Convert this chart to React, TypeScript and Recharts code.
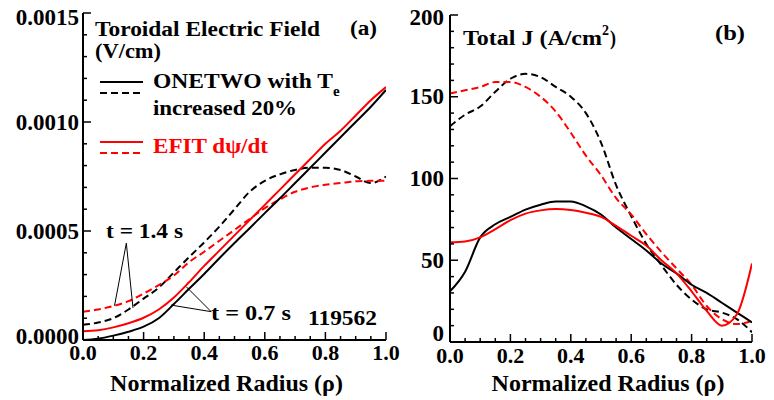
import React from 'react';
import { LineChart, Line, XAxis, YAxis, ReferenceLine } from 'recharts';

const FONT = '"Liberation Serif", "Times New Roman", Times, serif';
const RED = '#ff0000';
const BLACK = '#000000';

// ---- tick values ----
const rhoTicksMajor = [0, 0.2, 0.4, 0.6, 0.8, 1.0];
const rhoTicksAll = [0, 0.05, 0.1, 0.15, 0.2, 0.25, 0.3, 0.35, 0.4, 0.45, 0.5, 0.55, 0.6, 0.65, 0.7, 0.75, 0.8, 0.85, 0.9, 0.95, 1.0];
const eTicksMajor = [0, 0.0005, 0.001, 0.0015];
const eTicksAll = [0, 0.0001, 0.0002, 0.0003, 0.0004, 0.0005, 0.0006, 0.0007, 0.0008, 0.0009, 0.001, 0.0011, 0.0012, 0.0013, 0.0014, 0.0015];
const jTicksMajor = [0, 50, 100, 150, 200];
const jTicksAll = [0, 10, 20, 30, 40, 50, 60, 70, 80, 90, 100, 110, 120, 130, 140, 150, 160, 170, 180, 190, 200];

// ---- sample positions (normalized radius) ----
const rho = [0, 0.05, 0.1, 0.15, 0.2, 0.25, 0.3, 0.35, 0.4, 0.45, 0.5, 0.55, 0.6, 0.65, 0.7, 0.75, 0.8, 0.85, 0.9, 0.95, 1.0];

// ---- panel (a): toroidal electric field (V/cm) ----
const eOnetwo07 = [0, 0.000006, 0.00002, 0.000038, 0.000061, 0.0001, 0.000165, 0.000235, 0.000303, 0.000375, 0.000445, 0.000513, 0.000582, 0.00065, 0.00072, 0.00079, 0.00086, 0.00093, 0.001, 0.00107, 0.001147];
const eOnetwo14 = [0.00007, 0.00008, 0.0001, 0.00014, 0.00019, 0.00024, 0.00031, 0.00038, 0.000448, 0.00052, 0.0006, 0.00068, 0.00073, 0.00076, 0.00078, 0.00079, 0.00079, 0.00078, 0.00075, 0.00072, 0.00075];
const eEfit07 = [0.00004, 0.000045, 0.000058, 0.000077, 0.000102, 0.00014, 0.000195, 0.000265, 0.00034, 0.00041, 0.00048, 0.00055, 0.00062, 0.00069, 0.00076, 0.00083, 0.0009, 0.00096, 0.00103, 0.0011, 0.00116];
const eEfit14 = [0.00013, 0.00014, 0.000156, 0.000178, 0.000213, 0.000252, 0.000296, 0.000357, 0.000405, 0.000455, 0.000505, 0.000555, 0.000605, 0.000645, 0.00068, 0.0007, 0.000712, 0.00072, 0.000728, 0.00073, 0.00073];

// ---- panel (b): total J (A/cm^2) ----
const jOnetwo07 = [31, 43, 64, 72, 76.5, 81, 84, 86, 86, 83, 78, 70, 63, 56, 48, 42, 35, 30, 24, 18, 12];
const jOnetwo14 = [132, 139, 144, 153, 161, 164, 162, 156, 150, 140, 122, 96, 77, 60, 47, 35, 26, 20, 18, 14, 6];
const jEfit07 = [61, 61.5, 64, 69, 74.5, 78.5, 80.5, 81.3, 80.7, 79, 76.5, 71, 65, 59, 50, 42, 31, 19, 10, 17, 48];
const jEfit14 = [152, 154, 156, 159, 159, 156, 150, 141, 128, 114, 102, 88, 78, 66, 55, 45, 35, 22, 14, 11, 13];

const toSeries = (ys: number[]) => rho.map((r, i) => ({ r, v: ys[i] }));

const MAJOR_LEN = 8;
const MINOR_LEN = 4;
const tickStyle: React.CSSProperties = { fontFamily: FONT, fontWeight: 700, fontSize: 22, fill: '#000' };
const yTickStyle: React.CSSProperties = { ...tickStyle, fontSize: 23 };
const noteStyle: React.CSSProperties = { fontFamily: FONT, fontWeight: 700, fontSize: 20, fill: '#000' };

const isMajor = (v: number, majors: number[]) => majors.some((m) => Math.abs(m - v) < 1e-9);

type Side = 'bottom' | 'left' | 'top' | 'right';

function makeTick(
  side: Side,
  majors: number[],
  format?: (v: number) => string,
  gap: number = 0,
  shiftFor?: (v: number) => number
) {
  return function TickMark(props: any) {
    const { x, y, payload } = props;
    const v = payload.value as number;
    const major = isMajor(v, majors);
    const len = major ? MAJOR_LEN : MINOR_LEN;
    const dx = side === 'left' ? len : side === 'right' ? -len : 0;
    const dy = side === 'bottom' ? -len : side === 'top' ? len : 0;
    let label: React.ReactNode = null;
    if (format && major) {
      if (side === 'bottom') {
        label = (
          <text x={x} y={y + gap} textAnchor="middle" style={tickStyle}>
            {format(v)}
          </text>
        );
      } else if (side === 'left') {
        label = (
          <text x={x - gap} y={y + 7.5 + (shiftFor ? shiftFor(v) : 0)} textAnchor="end" style={yTickStyle}>
            {format(v)}
          </text>
        );
      }
    }
    return (
      <g>
        <line x1={x} y1={y} x2={x + dx} y2={y + dy} stroke="#000" strokeWidth={1.5} />
        {label}
      </g>
    );
  };
}

const fmtRho = (v: number) => v.toFixed(1);
const fmtE = (v: number) => v.toFixed(4);
const fmtJ = (v: number) => String(v);

const axisLineStyle = { stroke: '#000', strokeWidth: 2 };

const xTitle = (dx: number) => ({
  value: 'Normalized Radius (\u03c1)',
  position: 'insideBottom' as const,
  offset: 9,
  dx,
  fill: '#000',
  fontFamily: FONT,
  fontWeight: 700,
  fontSize: 24,
});

function Note(props: { x: number; y: number; len?: number; anchor?: 'start' | 'end'; color?: string; size?: number; children: React.ReactNode }) {
  const { x, y, len, anchor = 'start', color = '#000', size = 20, children } = props;
  return (
    <text
      x={x}
      y={y}
      textAnchor={anchor}
      textLength={len}
      lengthAdjust={len ? 'spacingAndGlyphs' : undefined}
      style={{ ...noteStyle, fill: color, fontSize: size }}
    >
      {children}
    </text>
  );
}

function PanelA() {
  return (
    <LineChart width={420} height={400} margin={{ top: 13, right: 34, bottom: 0, left: 0 }}>
      <XAxis
        dataKey="r"
        type="number"
        domain={[0, 1]}
        allowDataOverflow
        ticks={rhoTicksAll}
        interval={0}
        tickSize={0}
        tickMargin={0}
        tickLine={false}
        axisLine={axisLineStyle}
        tick={makeTick('bottom', rhoTicksMajor, fmtRho, 20)}
        height={60}
        label={xTitle(-8)}
      />
      <XAxis
        xAxisId="top"
        orientation="top"
        dataKey="r"
        type="number"
        domain={[0, 1]}
        allowDataOverflow
        ticks={rhoTicksAll}
        interval={0}
        tickSize={0}
        tickMargin={0}
        tickLine={false}
        axisLine={axisLineStyle}
        tick={makeTick('top', rhoTicksMajor)}
        height={0}
      />
      <YAxis
        type="number"
        domain={[0, 0.0015]}
        allowDataOverflow
        ticks={eTicksAll}
        interval={0}
        tickSize={0}
        tickMargin={0}
        tickLine={false}
        axisLine={axisLineStyle}
        tick={makeTick('left', eTicksMajor, fmtE, 4, (v) => (v >= 0.0015 ? 4 : v === 0 ? -4 : 0))}
        width={83}
      />
      <YAxis
        yAxisId="right"
        orientation="right"
        type="number"
        domain={[0, 0.0015]}
        allowDataOverflow
        ticks={eTicksAll}
        interval={0}
        tickSize={0}
        tickMargin={0}
        tickLine={false}
        axisLine={axisLineStyle}
        tick={makeTick('right', eTicksMajor)}
        width={0}
      />
      <Line data={toSeries(eOnetwo14)} dataKey="v" type="monotone" stroke={BLACK} strokeWidth={2} strokeDasharray="7 4" dot={false} isAnimationActive={false} />
      <Line data={toSeries(eEfit14)} dataKey="v" type="monotone" stroke={RED} strokeWidth={2} strokeDasharray="7 4" dot={false} isAnimationActive={false} />
      <Line data={toSeries(eOnetwo07)} dataKey="v" type="monotone" stroke={BLACK} strokeWidth={2} dot={false} isAnimationActive={false} />
      <Line data={toSeries(eEfit07)} dataKey="v" type="monotone" stroke={RED} strokeWidth={2} dot={false} isAnimationActive={false} />

      <ReferenceLine segment={[{ x: 0.143, y: 0.000444 }, { x: 0.104, y: 0.000157 }]} stroke="#000" strokeWidth={1} ifOverflow="visible" />
      <ReferenceLine segment={[{ x: 0.143, y: 0.000444 }, { x: 0.165, y: 0.000147 }]} stroke="#000" strokeWidth={1} ifOverflow="visible" />
      <ReferenceLine segment={[{ x: 0.423, y: 0.00013 }, { x: 0.291, y: 0.00016 }]} stroke="#000" strokeWidth={1} ifOverflow="visible" />
      <ReferenceLine segment={[{ x: 0.423, y: 0.00013 }, { x: 0.341, y: 0.000244 }]} stroke="#000" strokeWidth={1} ifOverflow="visible" />

      <Note x={95} y={36} len={225}>Toroidal Electric Field</Note>
      <Note x={95} y={58} len={66}>(V/cm)</Note>
      <Note x={350} y={35} len={27}>(a)</Note>

      <line x1={100} y1={82} x2={143} y2={82} stroke={BLACK} strokeWidth={2} />
      <line x1={100} y1={93} x2={143} y2={93} stroke={BLACK} strokeWidth={2} strokeDasharray="7 4" />
      <Note x={153} y={88} len={180}>ONETWO with T</Note>
      <Note x={333} y={96} size={15}>e</Note>
      <Note x={153} y={115} len={144}>increased 20%</Note>
      <line x1={100} y1={142} x2={143} y2={142} stroke={RED} strokeWidth={2} />
      <line x1={100} y1={153} x2={143} y2={153} stroke={RED} strokeWidth={2} strokeDasharray="7 4" />
      <Note x={153} y={153} len={115} color={RED}>{'EFIT d\u03c8/dt'}</Note>

      <Note x={106} y={238} len={77}>t = 1.4 s</Note>
      <Note x={211} y={320} len={80}>t = 0.7 s</Note>
      <Note x={308} y={325} len={69}>119562</Note>
    </LineChart>
  );
}

function PanelB() {
  return (
    <LineChart width={384} height={400} margin={{ top: 15, right: 22, bottom: 0, left: 0 }}>
      <XAxis
        dataKey="r"
        type="number"
        domain={[0, 1]}
        allowDataOverflow
        ticks={rhoTicksAll}
        interval={0}
        tickSize={0}
        tickMargin={0}
        tickLine={false}
        axisLine={axisLineStyle}
        tick={makeTick('bottom', rhoTicksMajor, fmtRho, 21)}
        height={58}
        label={xTitle(7)}
      />
      <XAxis
        xAxisId="top"
        orientation="top"
        dataKey="r"
        type="number"
        domain={[0, 1]}
        allowDataOverflow
        ticks={rhoTicksAll}
        interval={0}
        tickSize={0}
        tickMargin={0}
        tickLine={false}
        axisLine={axisLineStyle}
        tick={makeTick('top', rhoTicksMajor)}
        height={0}
      />
      <YAxis
        type="number"
        domain={[0, 200]}
        allowDataOverflow
        ticks={jTicksAll}
        interval={0}
        tickSize={0}
        tickMargin={0}
        tickLine={false}
        axisLine={axisLineStyle}
        tick={makeTick('left', jTicksMajor, fmtJ, 6, (v) => (v >= 200 ? 2 : v === 0 ? -9 : 0))}
        width={60}
      />
      <YAxis
        yAxisId="right"
        orientation="right"
        type="number"
        domain={[0, 200]}
        allowDataOverflow
        ticks={jTicksAll}
        interval={0}
        tickSize={0}
        tickMargin={0}
        tickLine={false}
        axisLine={axisLineStyle}
        tick={makeTick('right', jTicksMajor)}
        width={0}
      />
      <Line data={toSeries(jOnetwo14)} dataKey="v" type="monotone" stroke={BLACK} strokeWidth={2} strokeDasharray="7 4" dot={false} isAnimationActive={false} />
      <Line data={toSeries(jEfit14)} dataKey="v" type="monotone" stroke={RED} strokeWidth={2} strokeDasharray="7 4" dot={false} isAnimationActive={false} />
      <Line data={toSeries(jOnetwo07)} dataKey="v" type="monotone" stroke={BLACK} strokeWidth={2} dot={false} isAnimationActive={false} />
      <Line data={toSeries(jEfit07)} dataKey="v" type="monotone" stroke={RED} strokeWidth={2} dot={false} isAnimationActive={false} />

      <Note x={73} y={45} len={139}>Total J (A/cm</Note>
      <Note x={212} y={35} size={14}>2</Note>
      <Note x={220} y={45} len={6}>)</Note>
      <Note x={325} y={40} len={30}>(b)</Note>
    </LineChart>
  );
}

export default function App() {
  return (
    <div style={{ position: 'absolute', left: 0, top: 0, width: 774, height: 400, background: '#fff', overflow: 'hidden' }}>
      <div style={{ position: 'absolute', left: 0, top: 0 }}>
        <PanelA />
      </div>
      <div style={{ position: 'absolute', left: 390, top: 0 }}>
        <PanelB />
      </div>
    </div>
  );
}
